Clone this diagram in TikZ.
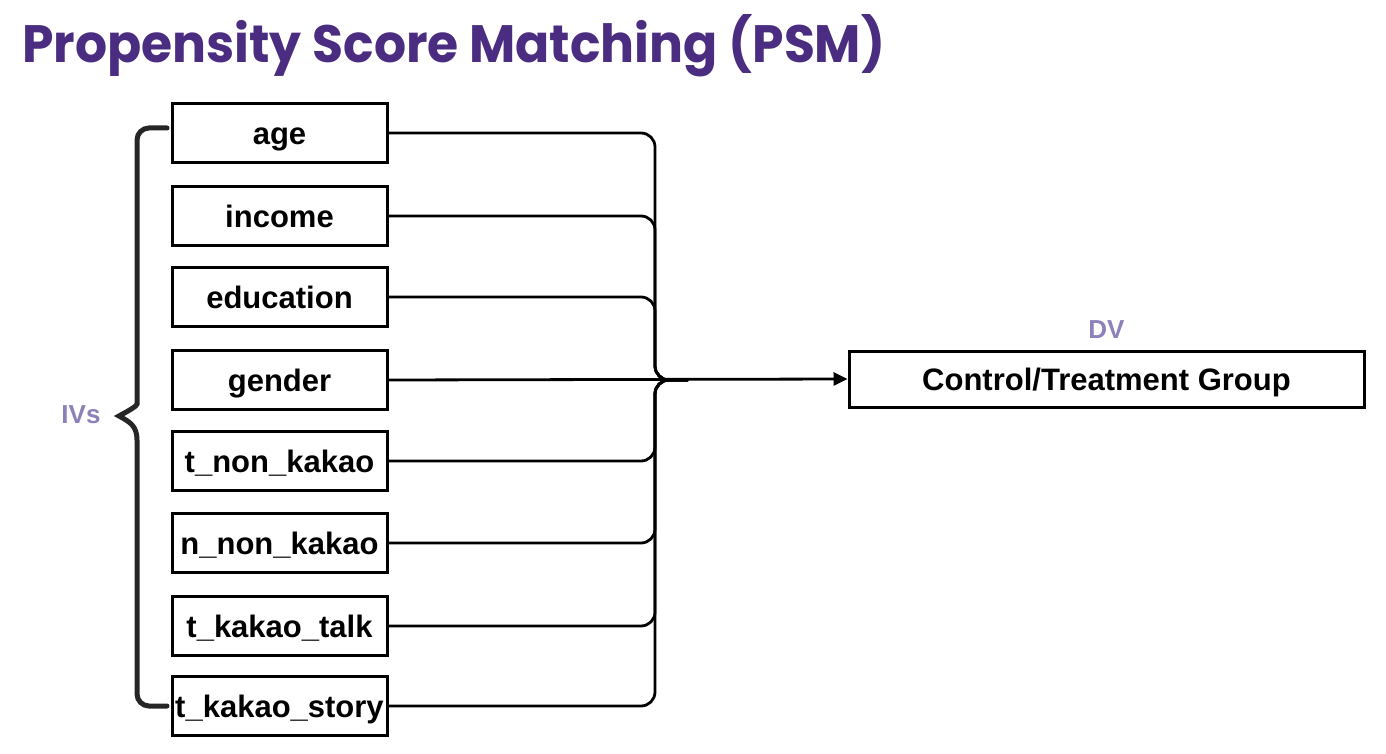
\documentclass[tikz,border=0pt]{standalone}
\usepackage{fontspec}
\setmainfont{Liberation Sans}
\newfontfamily\titlefont{Poppins}
\usetikzlibrary{arrows.meta}
\definecolor{titlepurple}{HTML}{4A2D80}
\definecolor{labelpurple}{HTML}{8E80B8}
\definecolor{bracegray}{HTML}{262626}
\begin{document}
\begin{tikzpicture}[x=1pt,y=-1pt,
  ivbox/.style={draw=black,line width=3pt,minimum width=215pt,minimum height=59pt,inner sep=0pt,text height=23pt,text depth=0pt,font=\fontsize{31}{31}\selectfont\bfseries,fill=white},
  dvbox/.style={draw=black,line width=3pt,minimum width=515pt,minimum height=56pt,inner sep=0pt,text height=23pt,text depth=0pt,font=\fontsize{31}{31}\selectfont\bfseries},
  conn/.style={line width=2.8pt,rounded corners=14pt},
  bracestyle/.style={line width=5pt,draw=bracegray,line cap=round},
  tag/.style={text=labelpurple,font=\fontsize{26}{26}\selectfont\bfseries,inner sep=0pt}]
\useasboundingbox (0,0) rectangle (1386,754);
\node[anchor=base west,inner sep=0pt,text=titlepurple] (title) at (22,63) {\resizebox{863pt}{48pt}{\titlefont\bfseries Propensity Score Matching (PSM)}};
\node[ivbox] (age) at (279.5,133) {age};
\node[ivbox] (income) at (279.5,216) {income};
\node[ivbox] (education) at (279.5,297) {education};
\node[ivbox] (gender) at (279.5,380) {gender};
\node[ivbox] (tnon) at (279.5,461) {t\_non\_kakao};
\node[ivbox] (nnon) at (279.5,543) {n\_non\_kakao};
\node[ivbox] (ttalk) at (279.5,626) {t\_kakao\_talk};
\node[ivbox] (tstory) at (279.5,706) {t\_kakao\_story};
\node[dvbox] (ctl) at (1106.5,379) {Control/Treatment Group};
\node[tag] (dv) at (1106.5,330) {DV};
\node[tag] (ivs) at (81,415) {IVs};
\coordinate (trunk) at (655,380);
\coordinate (j) at (688,380);
\foreach \n in {age,income,education,tnon,nnon,ttalk,tstory}{
  \draw[conn] (\n.east) -| (trunk) -- (j);
}
\draw[line width=2.8pt,-{Triangle[length=14pt,width=13pt]}] (gender.east) -- (ctl.west);
\draw[bracestyle] [rounded corners=12pt] (167,128) -- (137,128) -- (137,392) [sharp corners] .. controls (137,406) and (130,410) .. (119,416) .. controls (130,422) and (137,426) .. (137,440) [rounded corners=12pt] -- (137,706) -- (167,706);
\end{tikzpicture}
\end{document}
